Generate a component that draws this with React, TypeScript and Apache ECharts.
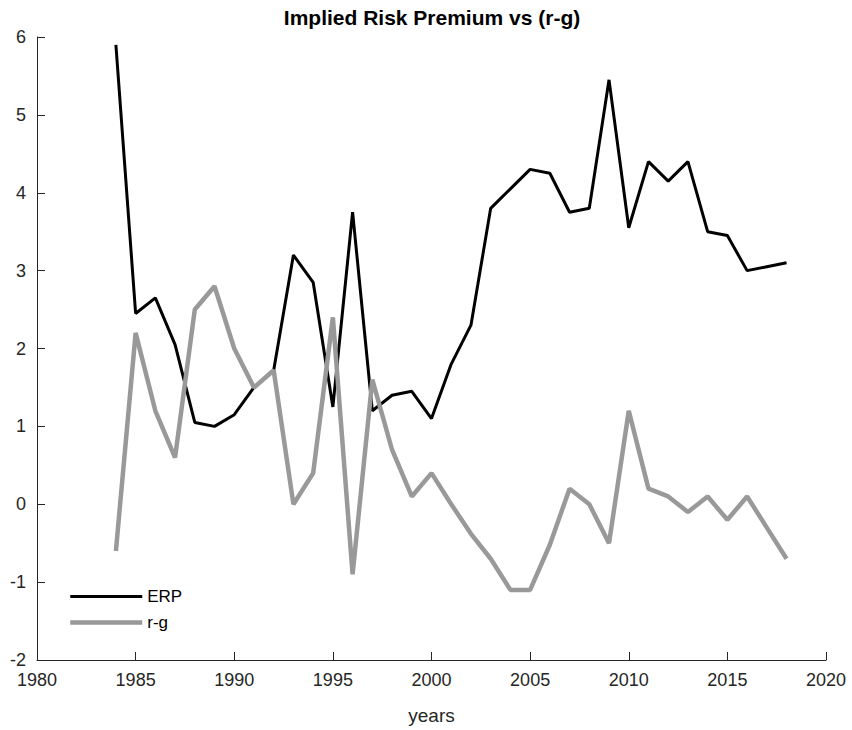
import React, { useEffect, useRef } from "react";
import * as echarts from "echarts";

const years = [
  1984, 1985, 1986, 1987, 1988, 1989, 1990, 1991, 1992, 1993, 1994, 1995,
  1996, 1997, 1998, 1999, 2000, 2001, 2002, 2003, 2004, 2005, 2006, 2007,
  2008, 2009, 2010, 2011, 2012, 2013, 2014, 2015, 2016, 2017, 2018,
];
const erp = [
  5.9, 2.45, 2.65, 2.05, 1.05, 1.0, 1.15, 1.5, 1.72, 3.2, 2.85, 1.25,
  3.75, 1.2, 1.4, 1.45, 1.1, 1.8, 2.3, 3.8, 4.05, 4.3, 4.25, 3.75,
  3.8, 5.45, 3.55, 4.4, 4.15, 4.4, 3.5, 3.45, 3.0, 3.05, 3.1,
];
const rg = [
  -0.6, 2.2, 1.2, 0.6, 2.5, 2.8, 2.0, 1.5, 1.72, 0.0, 0.4, 2.4,
  -0.9, 1.6, 0.7, 0.1, 0.4, 0.0, -0.38, -0.7, -1.1, -1.1, -0.52, 0.2,
  0.0, -0.5, 1.2, 0.2, 0.1, -0.1, 0.1, -0.2, 0.1, -0.3, -0.7,
];

const FONT = "'Liberation Sans', Arial, Helvetica, sans-serif";
const AXIS_COLOR = "#262626";
const ERP_COLOR = "#000000";
const RG_COLOR = "#999999";

export default function App() {
  const ref = useRef<HTMLDivElement>(null);
  useEffect(() => {
    if (!ref.current) return;
    const chart = echarts.init(ref.current, undefined, { renderer: "svg" });
    chart.setOption({
      animation: false,
      backgroundColor: "#ffffff",
      title: {
        text: "Implied Risk Premium vs (r-g)",
        left: 432,
        textAlign: "center",
        top: 7,
        padding: 0,
        textStyle: { fontFamily: FONT, fontSize: 21, fontWeight: "bold", color: "#000" },
      },
      legend: {
        orient: "vertical",
        left: 68,
        top: 588,
        padding: 0,
        itemWidth: 72,
        itemHeight: 16,
        itemGap: 9,
        itemStyle: { opacity: 0 },
        textStyle: { fontFamily: FONT, fontSize: 17, color: "#000" },
        data: [
          { name: "ERP", lineStyle: { width: 3, color: ERP_COLOR } },
          { name: "r-g", lineStyle: { width: 4.5, color: RG_COLOR } },
        ],
      },
      grid: { left: 37, right: 26, top: 37, bottom: 70, containLabel: false },
      xAxis: {
        type: "value",
        min: 1980,
        max: 2020,
        interval: 5,
        name: "years",
        nameLocation: "middle",
        nameGap: 46,
        nameTextStyle: { fontFamily: FONT, fontSize: 19, color: AXIS_COLOR },
        axisLine: { show: true, onZero: false, lineStyle: { color: AXIS_COLOR, width: 1 } },
        axisTick: { show: true, inside: true, length: 8, lineStyle: { color: AXIS_COLOR } },
        axisLabel: {
          fontFamily: FONT,
          fontSize: 18,
          color: AXIS_COLOR,
          margin: 11,
          formatter: (v: number) => String(v),
        },
        splitLine: { show: false },
      },
      yAxis: {
        type: "value",
        min: -2,
        max: 6,
        interval: 1,
        axisLine: { show: true, lineStyle: { color: AXIS_COLOR, width: 1 } },
        axisTick: { show: true, inside: true, length: 8, lineStyle: { color: AXIS_COLOR } },
        axisLabel: { fontFamily: FONT, fontSize: 18, color: AXIS_COLOR, margin: 11 },
        splitLine: { show: false },
      },
      series: [
        {
          name: "ERP",
          type: "line",
          data: years.map((y, i) => [y, erp[i]]),
          showSymbol: false,
          symbol: "none",
          lineStyle: { color: ERP_COLOR, width: 3 },
          itemStyle: { color: ERP_COLOR },
        },
        {
          name: "r-g",
          type: "line",
          data: years.map((y, i) => [y, rg[i]]),
          showSymbol: false,
          symbol: "none",
          lineStyle: { color: RG_COLOR, width: 4.5 },
          itemStyle: { color: RG_COLOR },
        },
      ],
    });
    return () => chart.dispose();
  }, []);
  return (
    <div
      ref={ref}
      style={{ position: "absolute", left: 0, top: 0, width: 852, height: 730 }}
    />
  );
}
